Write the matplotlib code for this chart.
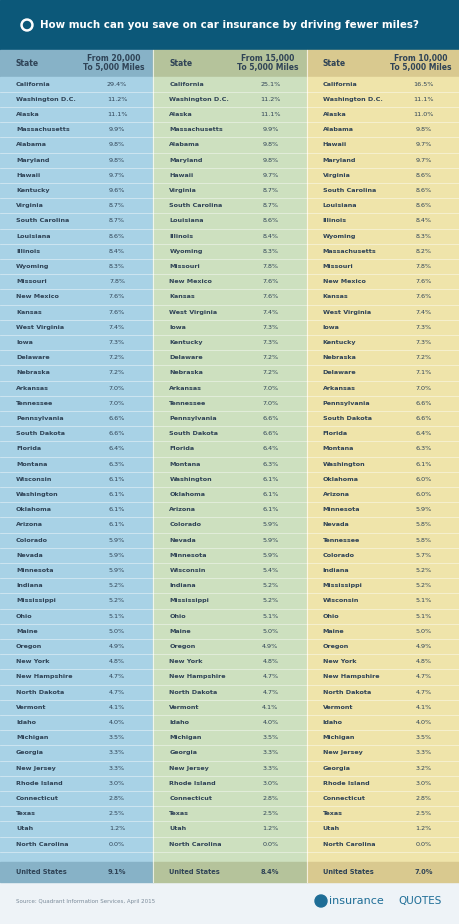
import matplotlib.pyplot as plt
from matplotlib.patches import Rectangle, Circle

states_20k = ["California", "Washington D.C.", "Alaska", "Massachusetts", "Alabama", "Maryland", "Hawaii",
              "Kentucky", "Virginia", "South Carolina", "Louisiana", "Illinois", "Wyoming", "Missouri",
              "New Mexico", "Kansas", "West Virginia", "Iowa", "Delaware", "Nebraska", "Arkansas", "Tennessee",
              "Pennsylvania", "South Dakota", "Florida", "Montana", "Wisconsin", "Washington", "Oklahoma",
              "Arizona", "Colorado", "Nevada", "Minnesota", "Indiana", "Mississippi", "Ohio", "Maine", "Oregon",
              "New York", "New Hampshire", "North Dakota", "Vermont", "Idaho", "Michigan", "Georgia",
              "New Jersey", "Rhode Island", "Connecticut", "Texas", "Utah", "North Carolina"]
values_20k = [29.4, 11.2, 11.1, 9.9, 9.8, 9.8, 9.7, 9.6, 8.7, 8.7, 8.6, 8.4, 8.3, 7.8, 7.6, 7.6, 7.4, 7.3,
              7.2, 7.2, 7.0, 7.0, 6.6, 6.6, 6.4, 6.3, 6.1, 6.1, 6.1, 6.1, 5.9, 5.9, 5.9, 5.2, 5.2, 5.1, 5.0,
              4.9, 4.8, 4.7, 4.7, 4.1, 4.0, 3.5, 3.3, 3.3, 3.0, 2.8, 2.5, 1.2, 0.0]

states_15k = ["California", "Washington D.C.", "Alaska", "Massachusetts", "Alabama", "Maryland", "Hawaii",
              "Virginia", "South Carolina", "Louisiana", "Illinois", "Wyoming", "Missouri", "New Mexico",
              "Kansas", "West Virginia", "Iowa", "Kentucky", "Delaware", "Nebraska", "Arkansas", "Tennessee",
              "Pennsylvania", "South Dakota", "Florida", "Montana", "Washington", "Oklahoma", "Arizona",
              "Colorado", "Nevada", "Minnesota", "Wisconsin", "Indiana", "Mississippi", "Ohio", "Maine",
              "Oregon", "New York", "New Hampshire", "North Dakota", "Vermont", "Idaho", "Michigan", "Georgia",
              "New Jersey", "Rhode Island", "Connecticut", "Texas", "Utah", "North Carolina"]
values_15k = [25.1, 11.2, 11.1, 9.9, 9.8, 9.8, 9.7, 8.7, 8.7, 8.6, 8.4, 8.3, 7.8, 7.6, 7.6, 7.4, 7.3, 7.3,
              7.2, 7.2, 7.0, 7.0, 6.6, 6.6, 6.4, 6.3, 6.1, 6.1, 6.1, 5.9, 5.9, 5.9, 5.4, 5.2, 5.2, 5.1, 5.0,
              4.9, 4.8, 4.7, 4.7, 4.1, 4.0, 3.5, 3.3, 3.3, 3.0, 2.8, 2.5, 1.2, 0.0]

states_10k = ["California", "Washington D.C.", "Alaska", "Alabama", "Hawaii", "Maryland", "Virginia",
              "South Carolina", "Louisiana", "Illinois", "Wyoming", "Massachusetts", "Missouri", "New Mexico",
              "Kansas", "West Virginia", "Iowa", "Kentucky", "Nebraska", "Delaware", "Arkansas",
              "Pennsylvania", "South Dakota", "Florida", "Montana", "Washington", "Oklahoma", "Arizona",
              "Minnesota", "Nevada", "Tennessee", "Colorado", "Indiana", "Mississippi", "Wisconsin", "Ohio",
              "Maine", "Oregon", "New York", "New Hampshire", "North Dakota", "Vermont", "Idaho", "Michigan",
              "New Jersey", "Georgia", "Rhode Island", "Connecticut", "Texas", "Utah", "North Carolina"]
values_10k = [16.5, 11.1, 11.0, 9.8, 9.7, 9.7, 8.6, 8.6, 8.6, 8.4, 8.3, 8.2, 7.8, 7.6, 7.6, 7.4, 7.3, 7.3,
              7.2, 7.1, 7.0, 6.6, 6.6, 6.4, 6.3, 6.1, 6.0, 6.0, 5.9, 5.8, 5.8, 5.7, 5.2, 5.2, 5.1, 5.1, 5.0,
              4.9, 4.8, 4.7, 4.7, 4.1, 4.0, 3.5, 3.3, 3.2, 3.0, 2.8, 2.5, 1.2, 0.0]

headers = ["From 20,000\nTo 5,000 Miles", "From 15,000\nTo 5,000 Miles", "From 10,000\nTo 5,000 Miles"]
us_values = [9.1, 8.4, 7.0]

columns = [(states_20k, values_20k), (states_15k, values_15k), (states_10k, values_10k)]
body_colors = ["#a8d2e6", "#cde0bf", "#efe4aa"]
head_colors = ["#87b2c7", "#b5c39b", "#d9c98f"]
text_color = "#2f4356"

fig = plt.figure(figsize=(4.6, 9.24), dpi=100)
ax = fig.add_axes([0, 0, 1, 1])
ax.set_xlim(0, 460)
ax.set_ylim(924, 0)
ax.axis("off")

# title band
ax.add_patch(Rectangle((0, 0), 460, 50, color="#0c5879"))
ax.add_patch(Circle((27, 25), 6, color="white"))
ax.add_patch(Circle((27, 25), 3.5, color="#0c5879"))
ax.text(40, 25, "How much can you save on car insurance by driving fewer miles?",
        color="white", fontsize=7.4, fontweight="bold", va="center", ha="left")

# footer
ax.add_patch(Rectangle((0, 882), 460, 42, color="#eef3f7"))
ax.text(16, 901, "Source: Quadrant Information Services, April 2015", fontsize=4, color="#7a8a99", va="center")
ax.add_patch(Circle((321, 901), 6, color="#1e6d96"))
ax.text(329, 901, "insurance", fontsize=8, color="#1e6d96", va="center")
ax.text(442, 901, "QUOTES", fontsize=7.5, color="#1e6d96", va="center", ha="right")

top, row_h = 76.5, 15.2
col_w = 460 / 3
for c, (states, vals) in enumerate(columns):
    x0 = c * col_w
    ax.add_patch(Rectangle((x0, 50), col_w, 26.5, color=head_colors[c]))
    ax.add_patch(Rectangle((x0, top), col_w, 862 - top, color=body_colors[c]))
    ax.add_patch(Rectangle((x0, 862), col_w, 20, color=head_colors[c]))
    ax.text(x0 + 16, 63, "State", fontsize=5.5, fontweight="bold", color=text_color, va="center")
    ax.text(x0 + 114, 63, headers[c], fontsize=5.5, fontweight="bold", color=text_color,
            va="center", ha="center", linespacing=1.0)
    for i, (s, v) in enumerate(zip(states, vals)):
        y = top + (i + 0.5) * row_h
        ax.text(x0 + 16, y, s, fontsize=4.6, fontweight="bold", color=text_color, va="center")
        ax.text(x0 + 117, y, f"{v:.1f}%", fontsize=4.6, color=text_color, va="center", ha="center")
        ax.plot([x0, x0 + col_w], [top + (i + 1) * row_h] * 2, color="white", lw=0.5, alpha=0.6)
    ax.text(x0 + 16, 872, "United States", fontsize=4.8, fontweight="bold", color=text_color, va="center")
    ax.text(x0 + 117, 872, f"{us_values[c]:.1f}%", fontsize=4.8, fontweight="bold", color=text_color,
            va="center", ha="center")
    if c > 0:
        ax.plot([x0, x0], [50, 882], color="white", lw=0.8, alpha=0.7)

fig.savefig("out.png", dpi=100)
